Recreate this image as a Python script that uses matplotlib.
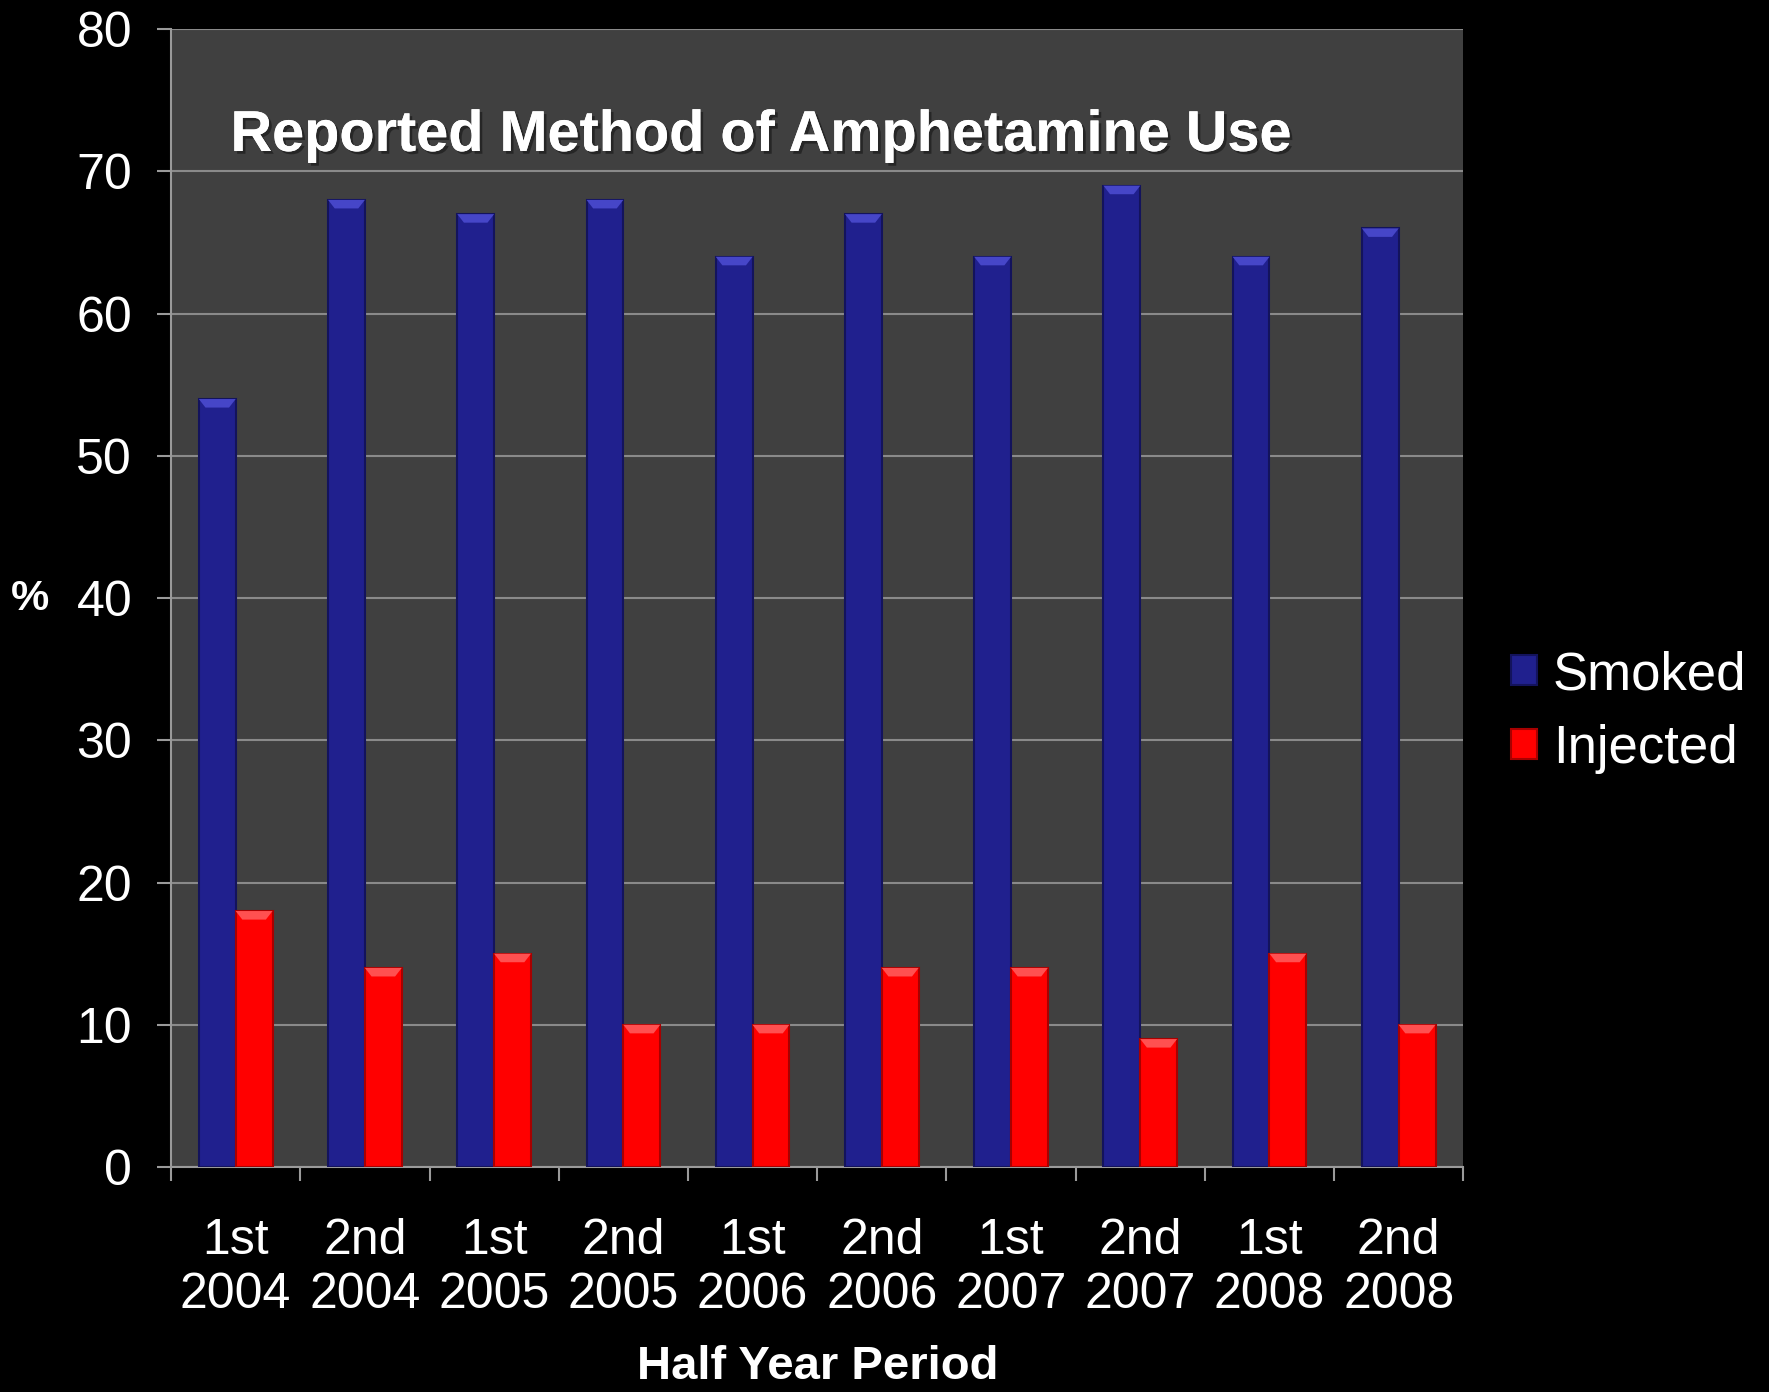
import matplotlib.pyplot as plt
from matplotlib.patches import Polygon
import matplotlib.patheffects as pe
import numpy as np

# Half-year periods and reported method (%)
periods = ['1st\n2004', '2nd\n2004', '1st\n2005', '2nd\n2005', '1st\n2006',
           '2nd\n2006', '1st\n2007', '2nd\n2007', '1st\n2008', '2nd\n2008']
smoked = [54, 68, 67, 68, 64, 67, 64, 69, 64, 66]
injected = [18, 14, 15, 10, 10, 14, 14, 9, 15, 10]

plt.rcParams['font.family'] = ['Liberation Sans', 'DejaVu Sans']

fig = plt.figure(figsize=(17.69, 13.92), dpi=100, facecolor='black')
ax = fig.add_axes([0.0967, 0.1616, 0.7305, 0.8174])
ax.set_facecolor('#404040')

x = np.arange(len(periods))
w = 0.285
b1 = ax.bar(x - w / 2, smoked, w, color='#20208e', edgecolor='#13135c',
            linewidth=1.5, label='Smoked', zorder=3)
b2 = ax.bar(x + w / 2, injected, w, color='#ff0000', edgecolor='#a80000',
            linewidth=1.5, label='Injected', zorder=3)

# bevelled highlight along the top of every bar
bevel = 0.6   # data units
for bars, light in [(b1, '#4646c8'), (b2, '#ff5050')]:
    for r in bars:
        x0, x1, top = r.get_x(), r.get_x() + r.get_width(), r.get_height()
        inset = r.get_width() * 0.18
        ax.add_patch(Polygon([(x0, top), (x1, top), (x1 - inset, top - bevel),
                              (x0 + inset, top - bevel)], closed=True,
                             facecolor=light, edgecolor='none', zorder=4))

ax.set_xlim(-0.5, len(periods) - 0.5)
ax.set_ylim(0, 80)
ax.set_yticks(range(0, 81, 10))
ax.yaxis.grid(True, color='#8a8a8a', linewidth=1.5, zorder=1)

# x ticks sit on the period boundaries, labels centred under each pair
ax.set_xticks(np.arange(-0.5, len(periods), 1.0))
ax.set_xticklabels([])
ax.set_xticks(x, minor=True)
ax.set_xticklabels(periods, minor=True, fontsize=36, color='white',
                   linespacing=1.2)
ax.tick_params(axis='x', which='minor', length=0, pad=37)
ax.tick_params(axis='x', which='major', length=10, width=1.5,
               color='#9a9a9a', direction='out')
ax.tick_params(axis='y', length=10, width=1.5, color='#9a9a9a',
               labelsize=36, labelcolor='white', pad=18)

for side in ['top', 'right']:
    ax.spines[side].set_visible(False)
for side in ['left', 'bottom']:
    ax.spines[side].set_color('#9a9a9a')
    ax.spines[side].set_linewidth(1.5)

ax.text(0.046, 0.893, 'Reported Method of Amphetamine Use',
        transform=ax.transAxes, fontsize=41.5, fontweight='bold',
        color='white', va='baseline', ha='left',
        path_effects=[pe.withSimplePatchShadow(offset=(2, -2),
                                               shadow_rgbFace='#202020',
                                               alpha=0.8),
                      pe.Normal()])

fig.text(0.462, 0.018, 'Half Year Period', fontsize=34, fontweight='bold',
         color='white', ha='center', va='center')
fig.text(0.017, 0.57, '%', fontsize=31, fontweight='bold',
         color='white', ha='center', va='center')

leg = ax.legend(loc='center left', bbox_to_anchor=(1.008, 0.4),
                frameon=False, fontsize=38, handlelength=0.5,
                handleheight=0.5, handletextpad=0.3, labelspacing=0.45,
                borderaxespad=0.3)
for t in leg.get_texts():
    t.set_color('white')

fig.savefig('out.png', dpi=100, facecolor='black')
